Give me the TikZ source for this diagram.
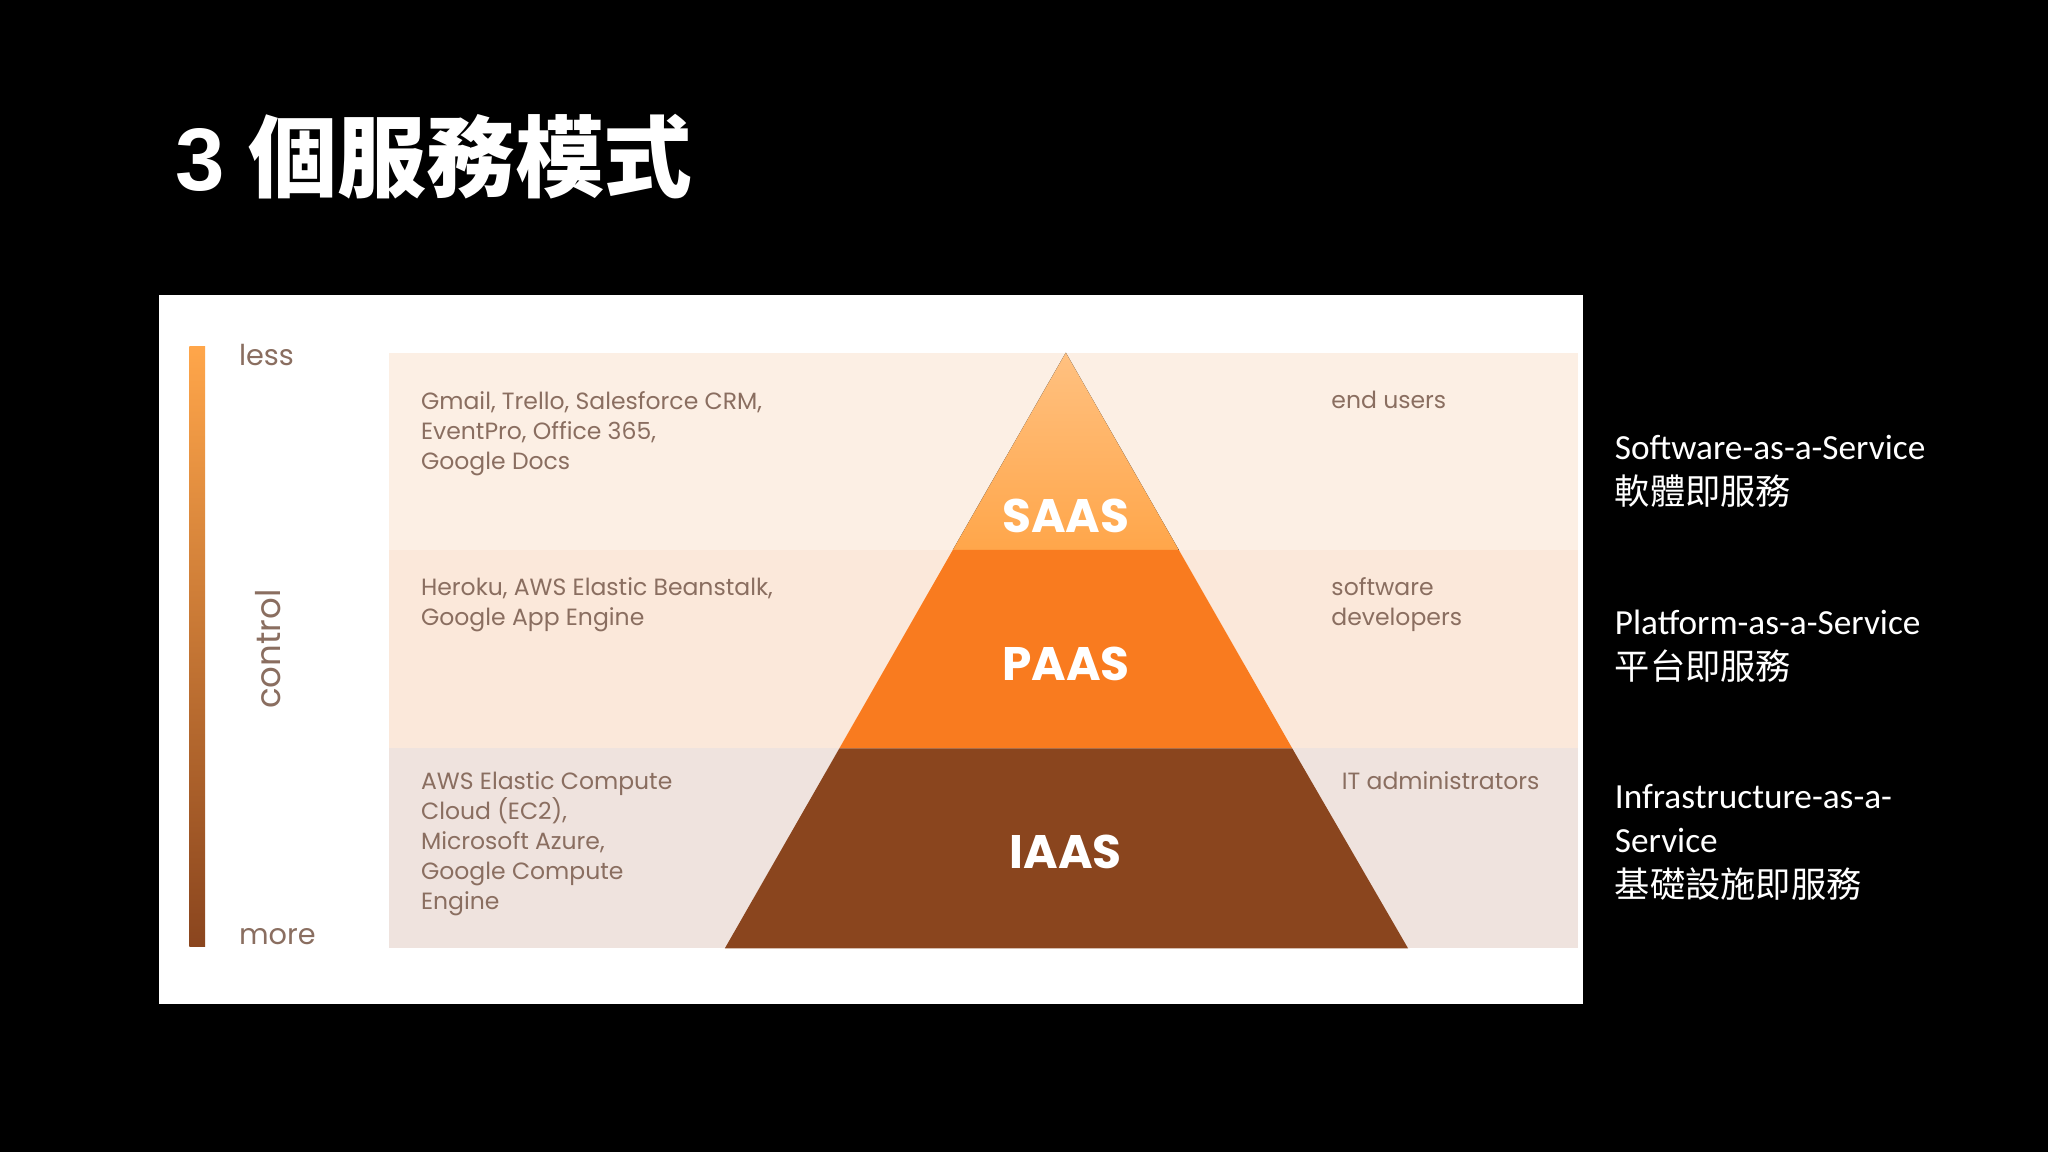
\documentclass[tikz,border=0pt]{standalone}
\usepackage{fontspec}
\setmainfont{Poppins}
\newfontfamily\cjk{Noto Sans CJK TC}
\newfontfamily\calfont{Carlito}
\newfontfamily\titfont{Liberation Sans}
\usetikzlibrary{calc}
\definecolor{txt}{HTML}{8A6E60}
\definecolor{bandA}{HTML}{FCEFE4}
\definecolor{bandB}{HTML}{FBE8DA}
\definecolor{bandC}{HTML}{EFE3DE}
\definecolor{triA}{HTML}{FFA64A}
\definecolor{triB}{HTML}{F97B1F}
\definecolor{triC}{HTML}{8A451E}
\tikzset{lbl/.style={anchor=north west,align=left,text=txt,font=\fontsize{9}{11.5}\selectfont,inner sep=0pt},
 side/.style={anchor=north west,align=left,text=white,font=\fontsize{13.5}{17}\selectfont\calfont,inner sep=0pt},
 big/.style={text=white,font=\fontsize{18}{20}\selectfont\bfseries}}
\begin{document}
\begin{tikzpicture}[x=0.5pt,y=-0.5pt]
\fill[black] (0,0) rectangle (1568,882);
\useasboundingbox (0,0) rectangle (1568,882);
\node[anchor=west,text=white,inner sep=0pt,font=\fontsize{34}{36}\selectfont] (title) at (134,120) {{\titfont\bfseries 3} {\cjk\bfseries 個服務模式}};
\fill[white] (122,226) rectangle (1212,769);
\fill[bandA] (298,270) rectangle (1208,421);
\fill[bandB] (298,421) rectangle (1208,573);
\fill[bandC] (298,573) rectangle (1208,726);
\fill[top color=triA!70!white,bottom color=triA] (816,270) -- (729.5,421) -- (902.5,421) -- cycle;
\fill[triB] (729.5,421) -- (642.6,573) -- (989.4,573) -- (902.5,421) -- cycle;
\fill[triC] (642.6,573) -- (555,726) -- (1078,726) -- (989.4,573) -- cycle;
\node[big] (saas) at (816,395) {SAAS};
\node[big] (paas) at (816,508) {PAAS};
\node[big] (iaas) at (816,652) {IAAS};
\shade[top color=triA,bottom color=triC] (145,265) rectangle (157,725);
\node[text=txt,font=\fontsize{11}{13}\selectfont,anchor=west] (less) at (176,272) {less};
\node[text=txt,font=\fontsize{11}{13}\selectfont,anchor=west] (more) at (176,717) {more};
\node[text=txt,font=\fontsize{13}{15}\selectfont,rotate=90] (control) at (205,497) {control};
\node[lbl] (l1) at (322,299) {Gmail, Trello, Salesforce CRM,\\EventPro, Office 365,\\Google Docs};
\node[lbl] (l2) at (322,442) {Heroku, AWS Elastic Beanstalk,\\Google App Engine};
\node[lbl] (l3) at (322,590) {AWS Elastic Compute\\Cloud (EC2),\\Microsoft Azure,\\Google Compute\\Engine};
\node[lbl] (r1) at (1019,299) {end users};
\node[lbl] (r2) at (1019,442) {software\\developers};
\node[lbl] (r3) at (1027,590) {IT administrators};
\node[side] (s1) at (1236,333) {Software-as-a-Service\\{\cjk 軟體即服務}};
\node[side] (s2) at (1236,467) {Platform-as-a-Service\\{\cjk 平台即服務}};
\node[side] (s3) at (1236,600) {Infrastructure-as-a-\\Service\\{\cjk 基礎設施即服務}};
\end{tikzpicture}
\end{document}
